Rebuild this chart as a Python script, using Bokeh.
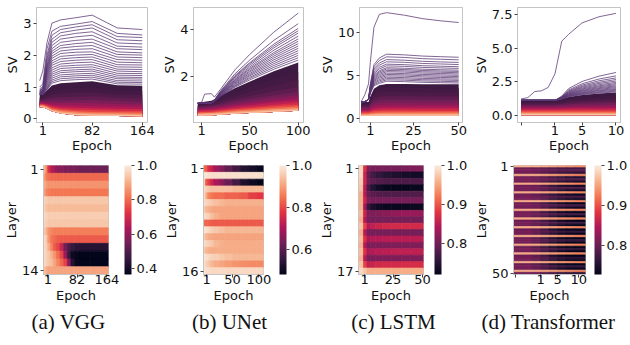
from bokeh.plotting import figure
from bokeh.models import (Range1d, FixedTicker, ColorBar, LinearColorMapper, LinearAxis,
                          ColumnDataSource, PrintfTickFormatter, Label)
from bokeh.layouts import column, row
from bokeh.embed import file_html
from bokeh.resources import INLINE
from bokeh.transform import transform

# ======================= DATA =======================
captions = ["(a) VGG", "(b) UNet", "(c) LSTM", "(d) Transformer"]

# ---- VGG : singular values per epoch ----
vgg_epochs = [-4, 1, 8, 16, 30, 55, 82, 123, 164]
vgg_lines = [
    [1.20, 1.50, 2.40, 3.00, 3.10, 3.17, 3.25, 2.85, 2.80],
    [1.00, 1.10, 2.20, 2.75, 2.90, 2.97, 3.05, 2.68, 2.63],
    [0.95, 1.00, 2.00, 2.62, 2.80, 2.88, 2.95, 2.58, 2.55],
    [0.92, 0.96, 1.90, 2.50, 2.70, 2.78, 2.85, 2.48, 2.45],
    [0.90, 0.94, 1.80, 2.40, 2.60, 2.68, 2.73, 2.38, 2.35],
    [0.88, 0.92, 1.70, 2.30, 2.50, 2.57, 2.62, 2.28, 2.25],
    [0.87, 0.90, 1.65, 2.20, 2.40, 2.46, 2.50, 2.20, 2.17],
    [0.86, 0.88, 1.60, 2.12, 2.30, 2.36, 2.40, 2.10, 2.07],
    [0.85, 0.87, 1.55, 2.05, 2.22, 2.27, 2.30, 2.02, 2.00],
    [0.84, 0.86, 1.50, 1.97, 2.13, 2.18, 2.20, 1.94, 1.92],
    [0.83, 0.85, 1.45, 1.90, 2.05, 2.09, 2.10, 1.86, 1.84],
    [0.82, 0.84, 1.40, 1.82, 1.96, 2.00, 2.02, 1.78, 1.76],
    [0.81, 0.83, 1.35, 1.75, 1.88, 1.92, 1.94, 1.70, 1.69],
    [0.80, 0.82, 1.30, 1.68, 1.80, 1.84, 1.86, 1.63, 1.62],
    [0.80, 0.81, 1.25, 1.60, 1.72, 1.76, 1.78, 1.56, 1.55],
    [0.79, 0.80, 1.20, 1.53, 1.65, 1.68, 1.70, 1.50, 1.48],
    [0.79, 0.80, 1.15, 1.46, 1.58, 1.61, 1.63, 1.43, 1.42],
    [0.78, 0.79, 1.10, 1.40, 1.51, 1.54, 1.56, 1.37, 1.36],
    [0.78, 0.79, 1.05, 1.34, 1.45, 1.48, 1.50, 1.31, 1.30],
    [0.77, 0.78, 1.00, 1.28, 1.38, 1.41, 1.43, 1.26, 1.25],
    [0.77, 0.78, 0.97, 1.22, 1.32, 1.35, 1.37, 1.20, 1.19],
    [0.76, 0.77, 0.94, 1.17, 1.26, 1.29, 1.31, 1.15, 1.14],
    [0.76, 0.77, 0.92, 1.12, 1.20, 1.23, 1.25, 1.10, 1.09],
]
vgg_bulk = [
    [0.75, 0.76, 0.90, 1.05, 1.12, 1.15, 1.18, 1.06, 1.04],
    [0.68, 0.69, 0.78, 0.88, 0.94, 0.97, 0.99, 0.90, 0.88],
    [0.63, 0.64, 0.70, 0.76, 0.80, 0.82, 0.84, 0.77, 0.75],
    [0.59, 0.60, 0.63, 0.66, 0.68, 0.70, 0.71, 0.66, 0.64],
    [0.56, 0.56, 0.57, 0.58, 0.58, 0.59, 0.60, 0.56, 0.54],
    [0.53, 0.53, 0.52, 0.51, 0.50, 0.50, 0.50, 0.47, 0.46],
    [0.50, 0.50, 0.48, 0.45, 0.43, 0.42, 0.41, 0.39, 0.38],
    [0.48, 0.48, 0.45, 0.41, 0.37, 0.35, 0.34, 0.32, 0.31],
    [0.46, 0.46, 0.42, 0.37, 0.32, 0.29, 0.28, 0.26, 0.25],
    [0.44, 0.44, 0.40, 0.33, 0.28, 0.24, 0.22, 0.21, 0.20],
    [0.42, 0.42, 0.37, 0.30, 0.24, 0.20, 0.18, 0.17, 0.16],
    [0.40, 0.40, 0.35, 0.27, 0.20, 0.16, 0.14, 0.13, 0.12],
    [0.37, 0.37, 0.32, 0.24, 0.17, 0.12, 0.10, 0.09, 0.08],
]

# ---- UNet ----
unet_epochs = [-3, 1, 4, 11, 14, 20, 35, 50, 75, 100]
unet_lines = [
    [0.86, 0.90, 1.25, 1.27, 1.12, 1.44, 2.28, 2.93, 3.89, 4.70],
    [0.86, 0.86, 0.86, 0.87, 0.99, 1.37, 2.11, 2.69, 3.54, 4.25],
    [0.86, 0.86, 0.86, 0.87, 0.99, 1.34, 2.04, 2.58, 3.38, 4.05],
    [0.86, 0.86, 0.86, 0.87, 0.98, 1.32, 2.00, 2.53, 3.30, 3.95],
    [0.86, 0.86, 0.86, 0.87, 0.98, 1.31, 1.97, 2.47, 3.22, 3.85],
    [0.86, 0.86, 0.86, 0.87, 0.97, 1.29, 1.92, 2.40, 3.12, 3.72],
    [0.86, 0.86, 0.86, 0.87, 0.97, 1.27, 1.87, 2.34, 3.02, 3.60],
    [0.86, 0.86, 0.86, 0.87, 0.97, 1.26, 1.84, 2.29, 2.95, 3.50],
    [0.86, 0.86, 0.86, 0.87, 0.96, 1.24, 1.80, 2.23, 2.87, 3.40],
    [0.86, 0.86, 0.86, 0.87, 0.96, 1.23, 1.76, 2.18, 2.79, 3.30],
    [0.86, 0.86, 0.86, 0.87, 0.95, 1.21, 1.73, 2.12, 2.71, 3.20],
    [0.86, 0.86, 0.86, 0.87, 0.95, 1.20, 1.69, 2.07, 2.63, 3.10],
    [0.86, 0.86, 0.86, 0.87, 0.95, 1.18, 1.65, 2.02, 2.55, 3.00],
    [0.86, 0.86, 0.86, 0.87, 0.94, 1.17, 1.61, 1.96, 2.47, 2.90],
    [0.86, 0.86, 0.86, 0.87, 0.94, 1.15, 1.58, 1.91, 2.39, 2.80],
    [0.86, 0.86, 0.86, 0.87, 0.93, 1.14, 1.54, 1.85, 2.31, 2.70],
]
unet_bulk = [
    [0.85, 0.89, 0.92, 0.97, 1.03, 1.17, 1.50, 1.78, 2.22, 2.60],
    [0.80, 0.83, 0.86, 0.90, 0.94, 1.05, 1.32, 1.54, 1.89, 2.20],
    [0.76, 0.78, 0.80, 0.84, 0.87, 0.96, 1.16, 1.34, 1.61, 1.85],
    [0.72, 0.74, 0.75, 0.78, 0.80, 0.87, 1.03, 1.16, 1.37, 1.55],
    [0.68, 0.69, 0.71, 0.73, 0.75, 0.80, 0.93, 1.04, 1.20, 1.35],
    [0.64, 0.65, 0.66, 0.68, 0.70, 0.74, 0.85, 0.94, 1.08, 1.20],
    [0.60, 0.61, 0.62, 0.63, 0.65, 0.69, 0.78, 0.85, 0.97, 1.08],
    [0.56, 0.57, 0.58, 0.59, 0.60, 0.64, 0.72, 0.78, 0.89, 0.98],
    [0.52, 0.53, 0.53, 0.55, 0.56, 0.58, 0.65, 0.71, 0.80, 0.88],
    [0.48, 0.49, 0.49, 0.50, 0.51, 0.54, 0.60, 0.65, 0.73, 0.80],
    [0.45, 0.46, 0.46, 0.47, 0.48, 0.50, 0.55, 0.59, 0.66, 0.72],
    [0.42, 0.42, 0.43, 0.44, 0.44, 0.46, 0.51, 0.54, 0.60, 0.65],
    [0.38, 0.38, 0.39, 0.39, 0.40, 0.42, 0.46, 0.49, 0.54, 0.59],
    [0.33, 0.33, 0.34, 0.34, 0.35, 0.37, 0.41, 0.44, 0.49, 0.54],
]

# ---- LSTM ----
lstm_epochs = [-4, -2, 0, 1, 3, 6, 10, 20, 30, 40, 50]
lstm_lines = [
    [1.95, 2.75, 4.00, 6.50, 10.6, 12.1, 12.3, 12.0, 11.6, 11.35, 11.15],
    [1.90, 1.92, 2.20, 3.96, 6.23, 7.02, 7.46, 7.38, 7.24, 7.17, 7.10],
    [1.90, 1.92, 2.20, 3.86, 5.99, 6.73, 7.15, 7.08, 6.94, 6.87, 6.80],
    [1.90, 1.92, 2.20, 3.75, 5.74, 6.43, 6.83, 6.76, 6.63, 6.56, 6.50],
    [1.90, 1.92, 2.20, 3.66, 5.54, 6.19, 6.57, 6.51, 6.38, 6.32, 6.25],
    [1.90, 1.92, 2.20, 3.57, 5.34, 5.94, 6.30, 6.24, 6.12, 6.06, 6.00],
    [1.90, 1.92, 2.20, 3.50, 5.18, 5.74, 6.10, 6.04, 5.92, 5.86, 5.80],
    [1.90, 1.92, 2.20, 3.42, 5.01, 5.54, 5.88, 5.82, 5.71, 5.65, 5.60],
    [1.90, 1.92, 2.20, 3.37, 4.89, 5.39, 5.73, 5.67, 5.56, 5.50, 5.45],
    [1.90, 1.92, 2.20, 3.32, 4.77, 5.25, 5.57, 5.52, 5.41, 5.36, 5.30],
    [1.90, 1.92, 2.20, 3.27, 4.65, 5.10, 5.42, 5.37, 5.26, 5.21, 5.15],
    [1.90, 1.92, 2.20, 3.21, 4.52, 4.95, 5.25, 5.20, 5.10, 5.05, 5.00],
    [1.90, 1.92, 2.20, 3.16, 4.40, 4.80, 5.10, 5.05, 4.95, 4.90, 4.85],
    [1.90, 1.92, 2.20, 3.10, 4.28, 4.66, 4.94, 4.90, 4.80, 4.75, 4.70],
    [1.90, 1.92, 2.20, 3.05, 4.15, 4.50, 4.78, 4.73, 4.64, 4.59, 4.55],
    [1.90, 1.92, 2.20, 3.00, 4.03, 4.36, 4.62, 4.58, 4.49, 4.45, 4.40],
    [1.90, 1.92, 2.20, 2.95, 3.91, 4.21, 4.47, 4.43, 4.34, 4.30, 4.25],
    [1.90, 1.92, 2.20, 2.89, 3.78, 4.05, 4.31, 4.26, 4.18, 4.14, 4.10],
]
lstm_bulk = [
    [1.90, 1.90, 1.90, 2.52, 3.44, 3.85, 4.00, 3.98, 3.96, 3.95, 3.95],
    [1.75, 1.75, 1.75, 2.28, 3.06, 3.41, 3.55, 3.53, 3.51, 3.50, 3.50],
    [1.60, 1.60, 1.60, 2.02, 2.65, 2.93, 3.04, 3.03, 3.01, 3.00, 3.00],
    [1.45, 1.45, 1.45, 1.78, 2.27, 2.50, 2.58, 2.57, 2.56, 2.55, 2.55],
    [1.30, 1.30, 1.30, 1.56, 1.94, 2.11, 2.18, 2.17, 2.16, 2.15, 2.15],
    [1.15, 1.15, 1.15, 1.35, 1.64, 1.77, 1.82, 1.81, 1.80, 1.80, 1.80],
    [1.00, 1.00, 1.00, 1.15, 1.38, 1.48, 1.52, 1.51, 1.50, 1.50, 1.50],
    [0.88, 0.88, 0.88, 0.99, 1.16, 1.23, 1.26, 1.26, 1.25, 1.25, 1.25],
    [0.77, 0.77, 0.77, 0.85, 0.97, 1.02, 1.04, 1.04, 1.03, 1.03, 1.03],
    [0.66, 0.66, 0.66, 0.72, 0.80, 0.84, 0.86, 0.86, 0.85, 0.85, 0.85],
    [0.56, 0.56, 0.56, 0.60, 0.65, 0.67, 0.68, 0.68, 0.68, 0.68, 0.68],
    [0.47, 0.47, 0.47, 0.49, 0.52, 0.54, 0.54, 0.54, 0.54, 0.54, 0.54],
    [0.38, 0.38, 0.38, 0.39, 0.41, 0.42, 0.42, 0.42, 0.42, 0.42, 0.42],
    [0.30, 0.30, 0.30, 0.30, 0.30, 0.30, 0.30, 0.30, 0.30, 0.30, 0.30],
]

# ---- Transformer ----
tf_epochs = [-4, -3, -2, -1, 0, 1, 2, 3, 5, 7.5, 10]
tf_lines = [
    [1.25, 1.35, 1.80, 1.85, 2.10, 3.10, 5.50, 6.00, 6.85, 7.30, 7.55],
    [1.15, 1.15, 1.15, 1.15, 1.15, 1.15, 1.46, 2.01, 2.54, 2.93, 3.20],
    [1.15, 1.15, 1.15, 1.15, 1.15, 1.15, 1.42, 1.91, 2.37, 2.72, 2.95],
    [1.15, 1.15, 1.15, 1.15, 1.15, 1.15, 1.40, 1.84, 2.27, 2.59, 2.80],
    [1.15, 1.15, 1.15, 1.15, 1.15, 1.15, 1.38, 1.79, 2.19, 2.48, 2.68],
    [1.15, 1.15, 1.15, 1.15, 1.15, 1.15, 1.36, 1.75, 2.12, 2.39, 2.57],
    [1.15, 1.15, 1.15, 1.15, 1.15, 1.15, 1.35, 1.70, 2.05, 2.30, 2.47],
    [1.15, 1.15, 1.15, 1.15, 1.15, 1.15, 1.33, 1.67, 1.99, 2.22, 2.38],
    [1.15, 1.15, 1.15, 1.15, 1.15, 1.15, 1.32, 1.63, 1.93, 2.15, 2.30],
    [1.15, 1.15, 1.15, 1.15, 1.15, 1.15, 1.31, 1.60, 1.88, 2.08, 2.22],
    [1.15, 1.15, 1.15, 1.15, 1.15, 1.15, 1.30, 1.57, 1.83, 2.02, 2.15],
    [1.15, 1.15, 1.15, 1.15, 1.15, 1.15, 1.29, 1.54, 1.78, 1.96, 2.08],
    [1.15, 1.15, 1.15, 1.15, 1.15, 1.15, 1.28, 1.51, 1.73, 1.90, 2.01],
    [1.15, 1.15, 1.15, 1.15, 1.15, 1.15, 1.27, 1.49, 1.69, 1.85, 1.95],
    [1.15, 1.15, 1.15, 1.15, 1.15, 1.15, 1.26, 1.46, 1.65, 1.79, 1.89],
    [1.15, 1.15, 1.15, 1.15, 1.15, 1.15, 1.25, 1.44, 1.61, 1.74, 1.83],
    [1.15, 1.15, 1.15, 1.15, 1.15, 1.15, 1.24, 1.41, 1.57, 1.69, 1.77],
]
tf_bulk = [
    [1.15, 1.15, 1.15, 1.15, 1.15, 1.15, 1.24, 1.39, 1.54, 1.65, 1.72],
    [1.05, 1.05, 1.05, 1.05, 1.05, 1.05, 1.12, 1.24, 1.36, 1.44, 1.50],
    [0.95, 0.95, 0.95, 0.95, 0.95, 0.95, 1.00, 1.10, 1.19, 1.25, 1.30],
    [0.86, 0.86, 0.86, 0.86, 0.86, 0.86, 0.90, 0.97, 1.04, 1.09, 1.12],
    [0.78, 0.78, 0.78, 0.78, 0.78, 0.78, 0.81, 0.86, 0.91, 0.95, 0.97],
    [0.70, 0.70, 0.70, 0.70, 0.70, 0.70, 0.72, 0.75, 0.79, 0.81, 0.83],
    [0.62, 0.62, 0.62, 0.62, 0.62, 0.62, 0.63, 0.65, 0.67, 0.69, 0.70],
    [0.54, 0.54, 0.54, 0.54, 0.54, 0.54, 0.55, 0.56, 0.57, 0.57, 0.58],
    [0.46, 0.46, 0.46, 0.46, 0.46, 0.46, 0.46, 0.47, 0.47, 0.48, 0.48],
    [0.38, 0.38, 0.38, 0.38, 0.38, 0.38, 0.38, 0.38, 0.39, 0.39, 0.39],
    [0.30, 0.30, 0.30, 0.30, 0.30, 0.30, 0.30, 0.30, 0.30, 0.30, 0.30],
    [0.22, 0.22, 0.22, 0.22, 0.22, 0.22, 0.22, 0.22, 0.22, 0.22, 0.22],
    [0.14, 0.14, 0.14, 0.14, 0.14, 0.14, 0.14, 0.14, 0.14, 0.14, 0.14],
    [0.05, 0.05, 0.05, 0.05, 0.05, 0.05, 0.05, 0.05, 0.05, 0.05, 0.05],
]

# ---- heatmaps: relative value per layer (rows) and epoch column ----
vgg_hm_edges = [-10.8, -4, 1, 8, 16, 25, 35, 45, 55, 65, 75, 90, 120, 168.6]
vgg_hm = [
    [0.91, 0.84, 0.72, 0.65, 0.62, 0.59, 0.58, 0.56, 0.56, 0.56, 0.55, 0.54, 0.54],
    [0.87, 0.82, 0.81, 0.80, 0.80, 0.80, 0.80, 0.80, 0.80, 0.80, 0.80, 0.80, 0.80],
    [0.90, 0.87, 0.86, 0.86, 0.86, 0.86, 0.86, 0.86, 0.86, 0.86, 0.86, 0.86, 0.86],
    [0.88, 0.84, 0.83, 0.82, 0.82, 0.82, 0.82, 0.82, 0.82, 0.82, 0.82, 0.82, 0.82],
    [0.96, 0.95, 0.94, 0.94, 0.94, 0.94, 0.94, 0.94, 0.94, 0.94, 0.94, 0.94, 0.94],
    [0.95, 0.93, 0.92, 0.92, 0.92, 0.92, 0.92, 0.92, 0.92, 0.92, 0.92, 0.92, 0.92],
    [0.97, 0.96, 0.95, 0.95, 0.95, 0.95, 0.95, 0.95, 0.95, 0.95, 0.95, 0.95, 0.95],
    [0.96, 0.95, 0.94, 0.94, 0.94, 0.94, 0.94, 0.94, 0.94, 0.94, 0.94, 0.94, 0.94],
    [0.94, 0.905, 0.86, 0.84, 0.83, 0.83, 0.83, 0.83, 0.83, 0.83, 0.83, 0.83, 0.83],
    [0.97, 0.94, 0.87, 0.82, 0.80, 0.785, 0.78, 0.78, 0.78, 0.78, 0.78, 0.78, 0.78],
    [0.97, 0.95, 0.905, 0.84, 0.78, 0.75, 0.68, 0.556, 0.49, 0.46, 0.44, 0.43, 0.43],
    [0.97, 0.955, 0.94, 0.905, 0.86, 0.81, 0.75, 0.62, 0.46, 0.385, 0.372, 0.366, 0.366],
    [0.97, 0.955, 0.94, 0.924, 0.886, 0.842, 0.797, 0.746, 0.588, 0.43, 0.38, 0.366, 0.366],
    [0.93, 0.90, 0.886, 0.886, 0.886, 0.886, 0.886, 0.886, 0.886, 0.886, 0.886, 0.886, 0.886],
]
unet_hm_edges = [-4.8, -1, 3, 8, 15, 25, 35, 50, 65, 80, 95, 108.5]
unet_hm = [
    [0.84, 0.82, 0.77, 0.73, 0.69, 0.65, 0.61, 0.57, 0.53, 0.51, 0.49],
    [0.99, 0.99, 0.985, 0.985, 0.985, 0.985, 0.985, 0.985, 0.985, 0.985, 0.985],
    [0.96, 0.82, 0.79, 0.74, 0.70, 0.66, 0.62, 0.57, 0.52, 0.50, 0.48],
    [0.98, 0.96, 0.95, 0.94, 0.94, 0.94, 0.94, 0.93, 0.93, 0.93, 0.93],
    [0.97, 0.92, 0.87, 0.85, 0.84, 0.84, 0.83, 0.83, 0.82, 0.79, 0.78],
    [0.98, 0.97, 0.96, 0.95, 0.94, 0.93, 0.92, 0.92, 0.92, 0.92, 0.92],
    [0.95, 0.93, 0.92, 0.91, 0.905, 0.905, 0.905, 0.905, 0.905, 0.905, 0.905],
    [0.98, 0.97, 0.96, 0.94, 0.92, 0.905, 0.905, 0.905, 0.905, 0.905, 0.905],
    [0.84, 0.83, 0.83, 0.82, 0.82, 0.82, 0.82, 0.82, 0.82, 0.82, 0.82],
    [0.99, 0.985, 0.975, 0.96, 0.95, 0.94, 0.93, 0.93, 0.93, 0.93, 0.93],
    [0.95, 0.925, 0.915, 0.91, 0.905, 0.905, 0.905, 0.905, 0.905, 0.905, 0.905],
    [0.98, 0.97, 0.96, 0.95, 0.93, 0.92, 0.915, 0.915, 0.915, 0.915, 0.915],
    [0.95, 0.93, 0.92, 0.915, 0.915, 0.915, 0.915, 0.915, 0.915, 0.915, 0.915],
    [0.99, 0.985, 0.975, 0.965, 0.96, 0.95, 0.94, 0.93, 0.93, 0.93, 0.93],
    [0.985, 0.965, 0.95, 0.93, 0.915, 0.905, 0.895, 0.885, 0.88, 0.875, 0.875],
    [0.99, 0.985, 0.98, 0.975, 0.975, 0.975, 0.975, 0.975, 0.975, 0.975, 0.975],
]
lstm_hm_edges = [-4.2, 0, 3, 6, 10, 16, 24, 32, 40, 50.8]
lstm_hm = [
    [0.986, 0.874, 0.809, 0.803, 0.803, 0.803, 0.803, 0.806, 0.809],
    [0.986, 0.860, 0.789, 0.770, 0.756, 0.747, 0.741, 0.736, 0.733],
    [0.978, 0.860, 0.795, 0.786, 0.781, 0.775, 0.775, 0.775, 0.775],
    [0.972, 0.845, 0.770, 0.747, 0.733, 0.725, 0.722, 0.722, 0.725],
    [0.958, 0.845, 0.792, 0.784, 0.781, 0.778, 0.778, 0.778, 0.778],
    [0.958, 0.860, 0.809, 0.803, 0.803, 0.803, 0.803, 0.803, 0.803],
    [0.958, 0.831, 0.758, 0.739, 0.730, 0.725, 0.725, 0.725, 0.727],
    [0.966, 0.860, 0.809, 0.809, 0.812, 0.817, 0.823, 0.826, 0.826],
    [0.958, 0.845, 0.803, 0.803, 0.803, 0.803, 0.803, 0.803, 0.803],
    [0.972, 0.888, 0.845, 0.854, 0.860, 0.865, 0.868, 0.868, 0.868],
    [0.958, 0.845, 0.803, 0.803, 0.803, 0.803, 0.803, 0.803, 0.803],
    [0.966, 0.874, 0.837, 0.845, 0.845, 0.848, 0.848, 0.848, 0.848],
    [0.958, 0.845, 0.806, 0.809, 0.809, 0.809, 0.809, 0.809, 0.809],
    [0.966, 0.874, 0.837, 0.845, 0.848, 0.850, 0.852, 0.852, 0.852],
    [0.958, 0.845, 0.806, 0.809, 0.809, 0.809, 0.809, 0.809, 0.809],
    [0.972, 0.888, 0.854, 0.860, 0.865, 0.868, 0.868, 0.870, 0.870],
    [0.986, 0.972, 0.958, 0.955, 0.955, 0.955, 0.955, 0.955, 0.955],
]
tf_hm_edges = [-5.4, -1, 1, 3, 5, 7, 9, 11.6]
tf_hm = [
    [0.960, 0.960, 0.955, 0.950, 0.945, 0.940, 0.935],
    [0.805, 0.800, 0.795, 0.785, 0.780, 0.775, 0.775],
    [0.810, 0.805, 0.800, 0.795, 0.790, 0.790, 0.790],
    [0.805, 0.800, 0.790, 0.780, 0.770, 0.765, 0.760],
    [0.955, 0.955, 0.950, 0.945, 0.940, 0.935, 0.930],
    [0.805, 0.800, 0.790, 0.775, 0.765, 0.755, 0.750],
    [0.810, 0.805, 0.800, 0.795, 0.790, 0.785, 0.785],
    [0.805, 0.800, 0.785, 0.770, 0.760, 0.750, 0.745],
    [0.955, 0.955, 0.950, 0.945, 0.940, 0.935, 0.930],
    [0.805, 0.800, 0.785, 0.765, 0.750, 0.745, 0.740],
    [0.810, 0.805, 0.800, 0.790, 0.785, 0.785, 0.780],
    [0.805, 0.800, 0.785, 0.770, 0.755, 0.745, 0.740],
    [0.955, 0.955, 0.950, 0.945, 0.940, 0.935, 0.930],
    [0.805, 0.795, 0.780, 0.765, 0.750, 0.740, 0.735],
    [0.810, 0.805, 0.800, 0.790, 0.785, 0.780, 0.780],
    [0.805, 0.800, 0.785, 0.765, 0.750, 0.740, 0.735],
    [0.955, 0.955, 0.950, 0.945, 0.940, 0.935, 0.930],
    [0.805, 0.795, 0.780, 0.760, 0.745, 0.735, 0.730],
    [0.810, 0.805, 0.795, 0.790, 0.785, 0.780, 0.780],
    [0.805, 0.800, 0.785, 0.765, 0.750, 0.740, 0.735],
    [0.955, 0.955, 0.950, 0.945, 0.940, 0.935, 0.930],
    [0.805, 0.795, 0.775, 0.755, 0.740, 0.733, 0.730],
    [0.810, 0.805, 0.795, 0.785, 0.780, 0.775, 0.775],
    [0.805, 0.795, 0.780, 0.760, 0.745, 0.735, 0.730],
    [0.955, 0.955, 0.950, 0.945, 0.940, 0.935, 0.930],
    [0.800, 0.795, 0.775, 0.755, 0.740, 0.732, 0.728],
    [0.810, 0.800, 0.795, 0.785, 0.775, 0.770, 0.770],
    [0.805, 0.795, 0.780, 0.760, 0.745, 0.735, 0.730],
    [0.955, 0.955, 0.950, 0.945, 0.940, 0.935, 0.930],
    [0.800, 0.795, 0.775, 0.750, 0.737, 0.730, 0.728],
    [0.810, 0.800, 0.790, 0.780, 0.770, 0.765, 0.765],
    [0.805, 0.795, 0.775, 0.755, 0.740, 0.733, 0.730],
    [0.955, 0.955, 0.950, 0.945, 0.940, 0.935, 0.930],
    [0.800, 0.790, 0.770, 0.750, 0.735, 0.730, 0.727],
    [0.810, 0.800, 0.790, 0.780, 0.770, 0.765, 0.765],
    [0.805, 0.795, 0.775, 0.755, 0.740, 0.732, 0.730],
    [0.955, 0.955, 0.950, 0.945, 0.940, 0.935, 0.930],
    [0.800, 0.790, 0.770, 0.750, 0.735, 0.730, 0.727],
    [0.810, 0.800, 0.790, 0.780, 0.770, 0.765, 0.760],
    [0.805, 0.795, 0.775, 0.755, 0.740, 0.732, 0.730],
    [0.955, 0.955, 0.950, 0.945, 0.940, 0.935, 0.930],
    [0.800, 0.790, 0.770, 0.748, 0.735, 0.728, 0.727],
    [0.810, 0.800, 0.790, 0.775, 0.765, 0.760, 0.760],
    [0.805, 0.795, 0.775, 0.755, 0.740, 0.732, 0.730],
    [0.955, 0.955, 0.950, 0.945, 0.940, 0.935, 0.930],
    [0.800, 0.790, 0.770, 0.750, 0.737, 0.730, 0.728],
    [0.810, 0.800, 0.790, 0.780, 0.770, 0.765, 0.765],
    [0.805, 0.795, 0.780, 0.760, 0.745, 0.735, 0.732],
    [0.955, 0.955, 0.950, 0.945, 0.940, 0.935, 0.930],
    [0.805, 0.800, 0.790, 0.780, 0.770, 0.765, 0.760],
]

# colour-bar ranges and ticks
vgg_cb = (0.366, 1.0, [0.4, 0.6, 0.8, 1.0])
unet_cb = (0.48, 1.0, [0.6, 0.8, 1.0])
lstm_cb = (0.719, 1.0, [0.8, 0.9, 1.0])
tf_cb = (0.726, 1.0, [0.8, 0.9, 1.0])

# ======================= STYLE =======================
FONT = "DejaVu Sans"
FS = "13px"
ROCKET_POS = [0.0, 1/7, 2/7, 3/7, 4/7, 5/7, 6/7, 1.0]
ROCKET_HEX = ["#03051a", "#35193e", "#701f57", "#ad1759",
              "#e13342", "#f37651", "#f6b48f", "#faebdd"]


def _rgb(h):
    return [int(h[i:i + 2], 16) for i in (1, 3, 5)]


def rocket(t):
    t = min(max(t, 0.0), 1.0)
    for i in range(len(ROCKET_POS) - 1):
        if t <= ROCKET_POS[i + 1]:
            f = (t - ROCKET_POS[i]) / (ROCKET_POS[i + 1] - ROCKET_POS[i])
            a, b = _rgb(ROCKET_HEX[i]), _rgb(ROCKET_HEX[i + 1])
            return "#%02x%02x%02x" % tuple(int(round(a[k] + (b[k] - a[k]) * f)) for k in range(3))
    return ROCKET_HEX[-1]


ROCKET256 = [rocket(i / 255) for i in range(256)]
LINE_COLOR = "#5a3672"

TOP_H, BOT_H, CAP_H = 158, 149, 38


def style(p, xlab, ylab, xstand, xlabstand, ylabstand):
    p.xgrid.visible = False
    p.ygrid.visible = False
    p.outline_line_color = "#c4c4c4"
    p.background_fill_color = "white"
    p.border_fill_color = "white"
    for ax in (p.xaxis[0], p.yaxis[0]):
        ax.axis_line_color = "#c4c4c4"
        ax.major_tick_line_color = "#444444"
        ax.major_tick_out = 3
        ax.major_tick_in = 0
        ax.minor_tick_line_color = None
        ax.major_label_text_font = FONT
        ax.major_label_text_font_size = FS
        ax.major_label_text_color = "#111111"
        ax.axis_label_text_font = FONT
        ax.axis_label_text_font_size = FS
        ax.axis_label_text_font_style = "normal"
        ax.axis_label_text_color = "#111111"
    p.xaxis.axis_label = xlab
    p.yaxis.axis_label = ylab
    p.xaxis.major_label_standoff = xstand
    p.xaxis.axis_label_standoff = xlabstand
    p.yaxis.major_label_standoff = 2
    p.yaxis.axis_label_standoff = ylabstand


def line_panel(w, bl, br, xr, yr, xs, lines, bulk, xticks, yticks, xover=None, yfmt=None):
    p = figure(width=w, height=TOP_H, x_range=Range1d(*xr), y_range=Range1d(*yr),
               output_backend="svg", toolbar_location=None,
               min_border_left=bl, min_border_right=br, min_border_top=7, min_border_bottom=36)
    style(p, "Epoch", "SV", 0, 0, 0)
    n = len(bulk)
    bottom = bulk[-1]
    for i in range(n - 1):
        # singular-value rank -> colour: upper part of the bundle stays dark purple
        t = 0.16 + 0.74 * (i / (n - 2)) ** 1.6
        p.varea(x=xs, y1=bottom, y2=bulk[i], fill_color=rocket(t))
    for ln in lines[::-1]:
        p.line(xs, ln, line_color=LINE_COLOR, line_width=0.9, line_alpha=0.85)
    p.xaxis.ticker = FixedTicker(ticks=xticks)
    p.yaxis.ticker = FixedTicker(ticks=yticks)
    if xover:
        p.xaxis.major_label_overrides = xover
    if yfmt:
        p.yaxis.formatter = PrintfTickFormatter(format=yfmt)
    return p


def heat_panel(w, bl, br, gap, edges, rows, cb, xticks, xover=None):
    n = len(rows)
    p = figure(width=w, height=BOT_H, x_range=Range1d(edges[0], edges[-1]),
               y_range=Range1d(n + 0.5, 0.5), output_backend="svg", toolbar_location=None,
               min_border_left=bl, min_border_right=br, min_border_top=7, min_border_bottom=33)
    style(p, "Epoch", "Layer", -3, 1, 0)
    d = dict(left=[], right=[], top=[], bottom=[], v=[])
    for r, vals in enumerate(rows, start=1):
        for c, v in enumerate(vals):
            d["left"].append(edges[c])
            d["right"].append(edges[c + 1])
            d["top"].append(r - 0.5)
            d["bottom"].append(r + 0.5)
            d["v"].append(v)
    low, high, cticks = cb
    mapper = LinearColorMapper(palette=ROCKET256, low=low, high=high)
    p.quad(left="left", right="right", top="top", bottom="bottom", source=ColumnDataSource(d),
           fill_color=transform("v", mapper), line_color=transform("v", mapper), line_width=0.7)
    p.xaxis.ticker = FixedTicker(ticks=xticks)
    p.yaxis.ticker = FixedTicker(ticks=[1, n])
    if xover:
        p.xaxis.major_label_overrides = xover
    # blank spacer axis (one invisible tick) keeps a gap before the colour bar
    spacer = LinearAxis(ticker=FixedTicker(ticks=[1]), major_label_overrides={1: ""},
                        major_tick_out=gap, major_tick_in=0, major_label_standoff=0,
                        axis_line_color=None, major_tick_line_color=None,
                        minor_tick_line_color=None)
    p.add_layout(spacer, "right")
    bar = ColorBar(color_mapper=mapper, ticker=FixedTicker(ticks=cticks),
                   formatter=PrintfTickFormatter(format="%.1f"),
                   width=7, padding=0, margin=0, label_standoff=2,
                   major_tick_in=0, major_tick_out=3, major_tick_line_color="#444444",
                   bar_line_color=None, border_line_color=None, background_fill_alpha=0,
                   major_label_text_font=FONT, major_label_text_font_size=FS,
                   major_label_text_color="#111111")
    p.add_layout(bar, "right")
    return p


t1 = line_panel(159, 36, 12, (-9.3, 172.6), (-0.11, 3.49), vgg_epochs, vgg_lines, vgg_bulk,
                [1, 82, 164], [0, 1, 2, 3])
t2 = line_panel(156, 33, 12, (-7.4, 105.4), (0.04, 4.94), unet_epochs, unet_lines, unet_bulk,
                [1, 50, 100], [2, 4])
t3 = line_panel(155, 44, 8, (-5.0, 52.1), (-0.5, 12.9), lstm_epochs, lstm_lines, lstm_bulk,
                [1, 25, 50], [0, 5, 10])
t4 = line_panel(160, 47, 10, (-4.53, 10.67), (-0.48, 7.98), tf_epochs, tf_lines, tf_bulk,
                [-4, 1, 5, 10], [0, 2.5, 5, 7.5], xover={-4: ""}, yfmt="%.1f")

b1 = heat_panel(160, 43, 50, 16, vgg_hm_edges, vgg_hm, vgg_cb, [1, 82, 164])
b2 = heat_panel(155, 39, 49, 16, unet_hm_edges, unet_hm, unet_cb, [1, 50, 100])
b3 = heat_panel(155, 40, 45, 11, lstm_hm_edges, lstm_hm, lstm_cb, [1, 25, 50])
b4 = heat_panel(160, 43, 45, 9, tf_hm_edges, tf_hm, tf_cb, [-4.9, 1, 5, 10], xover={-4.9: ""})

cap = figure(width=630, height=CAP_H, x_range=Range1d(0, 630), y_range=Range1d(0, CAP_H),
             output_backend="svg", toolbar_location=None, min_border=0)
cap.axis.visible = False
cap.grid.visible = False
cap.outline_line_color = None
CAP_X = [68, 229, 393, 548]
for cx, txt in zip(CAP_X, captions):
    cap.add_layout(Label(x=cx, y=CAP_H - 14, text=txt, text_font="Liberation Serif",
                         text_font_size="21px", text_align="center", text_baseline="middle",
                         text_color="#111111"))

layout = column(row(t1, t2, t3, t4), row(b1, b2, b3, b4), cap)
open("out.html", "w").write(file_html(layout, INLINE, title="SV dynamics"))
